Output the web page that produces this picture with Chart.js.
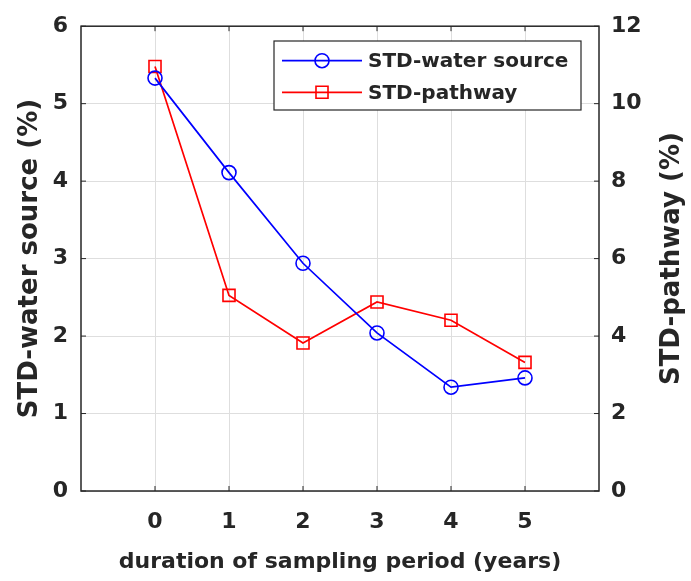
<!DOCTYPE html>
<html>
<head>
<meta charset="utf-8">
<script src="https://cdn.jsdelivr.net/npm/chart.js@4.4.1/dist/chart.umd.min.js"></script>
<style>
  html, body { margin: 0; background: #fff; }
</style>
</head>
<body>
<canvas id="stdChart" width="691" height="581"></canvas>
<script>
// --- data ---
const years = [0, 1, 2, 3, 4, 5];
const stdWaterSource = [5.33, 4.11, 2.94, 2.04, 1.34, 1.46];
const stdPathway = [10.96, 5.05, 3.82, 4.88, 4.41, 3.32];
const xTicks = [0, 1, 2, 3, 4, 5];
const leftTicks = [0, 1, 2, 3, 4, 5, 6];
const rightTicks = [0, 2, 4, 6, 8, 10, 12];

const xTitle = 'duration of sampling period (years)';
const leftTitle = 'STD-water source (%)';
const rightTitle = 'STD-pathway (%)';

const INK = '#262626';
const FONT = 'DejaVu Sans';

const toPoints = vals => years.map((yr, i) => ({ x: yr, y: vals[i] }));
const fixTicks = list => scale => { scale.ticks = list.map(v => ({ value: v })); };

// frame + inward tick marks, matlab style
const framePlugin = {
  id: 'frame',
  beforeDatasetsDraw(chart) {
    const { ctx, chartArea: a, scales } = chart;
    ctx.save();
    ctx.strokeStyle = INK;
    ctx.lineWidth = 1;
    const t = 5;
    ctx.beginPath();
    xTicks.forEach(v => {
      const px = scales.x.getPixelForValue(v);
      ctx.moveTo(px, a.bottom); ctx.lineTo(px, a.bottom - t);
      ctx.moveTo(px, a.top); ctx.lineTo(px, a.top + t);
    });
    leftTicks.forEach(v => {
      const py = scales.y.getPixelForValue(v);
      ctx.moveTo(a.left, py); ctx.lineTo(a.left + t, py);
    });
    rightTicks.forEach(v => {
      const py = scales.y2.getPixelForValue(v);
      ctx.moveTo(a.right, py); ctx.lineTo(a.right - t, py);
    });
    ctx.stroke();
    ctx.lineWidth = 1.5;
    ctx.strokeRect(a.left, a.top, a.right - a.left, a.bottom - a.top);
    ctx.restore();
  }
};

// axis titles (both y titles read bottom to top)
const titlePlugin = {
  id: 'axisTitles',
  afterDraw(chart) {
    const { ctx, chartArea: a } = chart;
    const midY = (a.top + a.bottom) / 2;
    ctx.save();
    ctx.fillStyle = INK;
    ctx.textAlign = 'center';
    ctx.textBaseline = 'alphabetic';
    ctx.font = 'bold 22px "' + FONT + '"';
    ctx.fillText(xTitle, (a.left + a.right) / 2, 568);

    ctx.font = 'bold 26px "' + FONT + '"';
    [[37, leftTitle], [679, rightTitle]].forEach(([bx, txt]) => {
      ctx.save();
      ctx.translate(bx, midY);
      ctx.rotate(-Math.PI / 2);
      ctx.fillText(txt, 0, 0);
      ctx.restore();
    });
    ctx.restore();
  }
};

// boxed legend in the upper right
const legendPlugin = {
  id: 'boxLegend',
  afterDatasetsDraw(chart) {
    const { ctx } = chart;
    const box = { x: 274, y: 41, w: 307, h: 69 };
    const rows = [60.7, 92.3];
    ctx.save();
    ctx.fillStyle = '#fff';
    ctx.fillRect(box.x, box.y, box.w, box.h);
    ctx.strokeStyle = INK;
    ctx.lineWidth = 1.2;
    ctx.strokeRect(box.x, box.y, box.w, box.h);
    chart.data.datasets.forEach((ds, i) => {
      const y = rows[i];
      ctx.strokeStyle = ds.borderColor;
      ctx.lineWidth = ds.borderWidth;
      ctx.beginPath();
      ctx.moveTo(282, y); ctx.lineTo(362, y);
      ctx.stroke();
      ctx.lineWidth = ds.pointBorderWidth;
      ctx.fillStyle = 'rgba(0,0,0,0)';
      Chart.helpers.drawPoint(ctx, {
        pointStyle: ds.pointStyle, radius: ds.pointRadius, rotation: 0, borderWidth: ds.pointBorderWidth
      }, 322, y);
      ctx.fillStyle = INK;
      ctx.font = 'bold 20px "' + FONT + '"';
      ctx.textAlign = 'left';
      ctx.textBaseline = 'middle';
      ctx.fillText(ds.label, 368, y + 1);
    });
    ctx.restore();
  }
};

const tickFont = { family: FONT, size: 22, weight: 'bold' };

new Chart(document.getElementById('stdChart'), {
  type: 'line',
  data: {
    datasets: [
      {
        label: 'STD-water source',
        data: toPoints(stdWaterSource),
        yAxisID: 'y',
        borderColor: '#0000ff',
        borderWidth: 1.7,
        pointStyle: 'circle',
        pointRadius: 7,
        pointBorderWidth: 1.6,
        pointBorderColor: '#0000ff',
        pointBackgroundColor: 'rgba(0,0,0,0)',
        tension: 0
      },
      {
        label: 'STD-pathway',
        data: toPoints(stdPathway),
        yAxisID: 'y2',
        borderColor: '#ff0000',
        borderWidth: 1.7,
        pointStyle: 'rect',
        pointRadius: 8.5,
        pointBorderWidth: 1.6,
        pointBorderColor: '#ff0000',
        pointBackgroundColor: 'rgba(0,0,0,0)',
        tension: 0
      }
    ]
  },
  options: {
    responsive: false,
    animation: false,
    devicePixelRatio: 1,
    layout: { padding: { top: 19, left: 0, right: 0, bottom: 0 } },
    plugins: { legend: { display: false }, tooltip: { enabled: false } },
    scales: {
      x: {
        type: 'linear',
        min: -1,
        max: 6,
        afterBuildTicks: fixTicks(xTicks),
        afterFit: s => { s.height = 90; },
        border: { display: false },
        grid: { color: '#dedede', lineWidth: 1, drawTicks: false },
        ticks: { font: tickFont, color: INK, padding: 18, maxRotation: 0 }
      },
      y: {
        position: 'left',
        min: 0,
        max: 6,
        afterBuildTicks: fixTicks(leftTicks),
        afterFit: s => { s.width = 81; },
        border: { display: false },
        grid: { color: '#dedede', lineWidth: 1, drawTicks: false },
        ticks: { font: tickFont, color: INK, padding: 13 }
      },
      y2: {
        position: 'right',
        min: 0,
        max: 12,
        afterBuildTicks: fixTicks(rightTicks),
        afterFit: s => { s.width = 92; },
        border: { display: false },
        grid: { display: false, drawTicks: false },
        ticks: { font: tickFont, color: INK, padding: 12 }
      }
    }
  },
  plugins: [framePlugin, legendPlugin, titlePlugin]
});
</script>
</body>
</html>
